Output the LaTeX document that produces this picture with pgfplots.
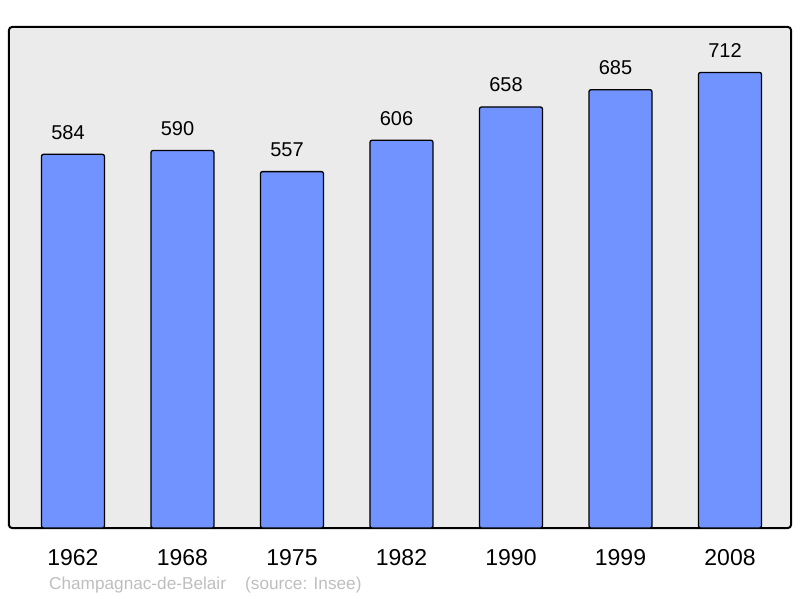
\documentclass[border=0pt]{standalone}
\usepackage{fontspec}
\setmainfont{Liberation Sans}
\usepackage{pgfplots}
\pgfplotsset{compat=1.18}
\definecolor{barblue}{RGB}{112,147,255}
\definecolor{bggray}{RGB}{235,235,235}
\definecolor{srcgray}{RGB}{190,190,190}
\begin{document}
\begin{tikzpicture}[x=1pt,y=1pt]
\path[use as bounding box] (0,0) rectangle (800,598);
\begin{axis}[at={(9pt,70pt)}, anchor=south west, scale only axis,
  width=782pt, height=501pt,
  xmin=-0.584, xmax=6.557, ymin=0, ymax=783,
  /pgf/number format/assume math mode=true,
  axis background/.style={fill=bggray, rounded corners=3pt},
  axis line style={line width=2pt, black, rounded corners=3pt},
  ytick=\empty, xtick={0,1,2,3,4,5,6},
  xticklabels={1962,1968,1975,1982,1990,1999,2008},
  major tick length=0pt,
  xticklabel style={font=\fontsize{23}{23}\selectfont, anchor=base, yshift=-37pt},
  ybar, bar width=0.575, bar shift=0pt,
  nodes near coords={\pgfmathprintnumber[assume math mode=true]{\pgfplotspointmeta}},
  nodes near coords style={font=\fontsize{20}{20}\selectfont, anchor=base, yshift=15pt, xshift=-5pt},
  clip=false]
\addplot[fill=barblue, draw=black, line width=1.3pt, rounded corners=2pt]
  coordinates {(0,584) (1,590) (2,557) (3,606) (4,658) (5,685) (6,712)};
\end{axis}
\node[anchor=base west, inner sep=0pt, text=srcgray, font=\fontsize{17.2}{17.2}\selectfont] at (49,9) {Champagnac-de-Belair};
\node[anchor=base west, inner sep=0pt, text=srcgray, font=\fontsize{17.2}{17.2}\selectfont] at (245,9) {(source: Insee)};
\end{tikzpicture}
\end{document}
